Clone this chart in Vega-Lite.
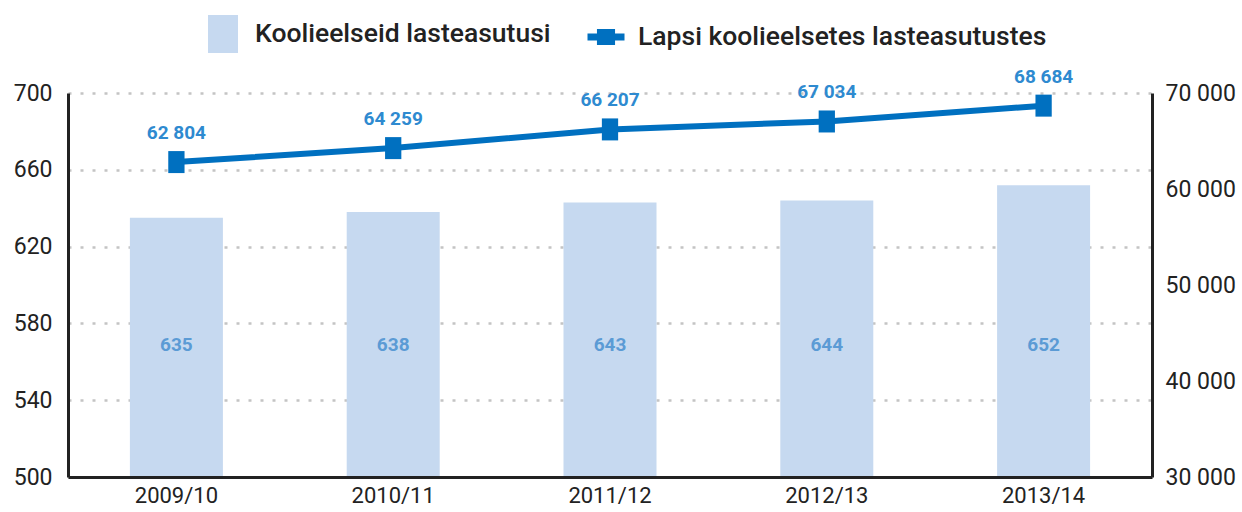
{
  "$schema": "https://vega.github.io/schema/vega-lite/v6.json",
  "autosize": {"type": "none"},
  "width": 1084,
  "height": 384,
  "padding": {"left": 68, "top": 93, "right": 90, "bottom": 35},
  "background": "white",
  "config": {
    "view": {"stroke": null},
    "font": "Roboto",
    "legend": {"padding": 0}
  },
  "data": {
    "values": [
      {"period": "2009/10", "asutusi": 635, "lapsi": 62804, "lapsiLabel": "62 804"},
      {"period": "2010/11", "asutusi": 638, "lapsi": 64259, "lapsiLabel": "64 259"},
      {"period": "2011/12", "asutusi": 643, "lapsi": 66207, "lapsiLabel": "66 207"},
      {"period": "2012/13", "asutusi": 644, "lapsi": 67034, "lapsiLabel": "67 034"},
      {"period": "2013/14", "asutusi": 652, "lapsi": 68684, "lapsiLabel": "68 684"}
    ]
  },
  "encoding": {
    "x": {
      "field": "period",
      "type": "nominal",
      "scale": {"paddingInner": 0, "paddingOuter": 0},
      "axis": {
        "title": null,
        "labelAngle": 0,
        "ticks": false,
        "domainColor": "#222222",
        "domainWidth": 3,
        "labelFontSize": 22,
        "labelColor": "#222222",
        "labelPadding": 8,
        "zindex": 1
      }
    }
  },
  "layer": [
    {
      "layer": [
        {
          "mark": {"type": "bar", "width": 93, "clip": true},
          "encoding": {
            "y": {
              "field": "asutusi",
              "type": "quantitative",
              "scale": {"domain": [500, 700], "zero": false, "nice": false},
              "axis": {
                "title": null,
                "values": [500, 540, 580, 620, 660, 700],
                "ticks": false,
                "domainColor": "#222222",
                "domainWidth": 3,
                "grid": true,
                "gridColor": "#c4c4c4",
                "gridWidth": 2.5,
                "gridDash": [3, 9],
                "labelFontSize": 23,
                "labelColor": "#222222",
                "labelPadding": 16
              }
            },
            "fill": {
              "datum": "Koolieelseid lasteasutusi",
              "scale": {"range": ["#C6D9F0"]},
              "legend": {
                "title": null,
                "orient": "none",
                "legendX": 136,
                "legendY": -78,
                "symbolType": "M-0.79,-1H0.79V1H-0.79Z",
                "symbolSize": 1444,
                "symbolStrokeWidth": 0,
                "symbolOpacity": 1,
                "labelFont": "Roboto",
                "labelFontSize": 26.5,
                "labelFontWeight": 500,
                "labelColor": "#222222",
                "labelOffset": 13,
                "labelLimit": 0
              }
            }
          }
        },
        {
          "mark": {"type": "text", "fontWeight": "bold", "fontSize": 19, "color": "#5B9BD5"},
          "encoding": {
            "y": {"datum": 568.5, "type": "quantitative"},
            "text": {"field": "asutusi", "type": "quantitative"}
          }
        }
      ]
    },
    {
      "layer": [
        {
          "mark": {"type": "line", "strokeWidth": 6},
          "encoding": {
            "y": {
              "field": "lapsi",
              "type": "quantitative",
              "scale": {"domain": [30000, 70000], "zero": false, "nice": false},
              "axis": {
                "orient": "right",
                "title": null,
                "values": [30000, 40000, 50000, 60000, 70000],
                "format": ",d",
                "labelExpr": "replace(datum.label, ',', ' ')",
                "ticks": false,
                "grid": false,
                "domainColor": "#222222",
                "domainWidth": 3,
                "labelFontSize": 23,
                "labelColor": "#222222",
                "labelPadding": 13
              }
            },
            "stroke": {
              "datum": "Lapsi koolieelsetes lasteasutustes",
              "scale": {"range": ["#0070C0"]},
              "legend": {
                "title": null,
                "orient": "none",
                "legendX": 516,
                "legendY": -78,
                "symbolType": "M-1,0H1M-0.3,-0.24H0.3V0.24H-0.3Z",
                "symbolSize": 1369,
                "symbolStrokeWidth": 7,
                "symbolFillColor": "#0070C0",
                "symbolOpacity": 1,
                "labelFont": "Roboto",
                "labelFontSize": 26.5,
                "labelFontWeight": 500,
                "labelColor": "#222222",
                "labelOffset": 10,
                "labelLimit": 0
              }
            }
          }
        },
        {
          "mark": {"type": "point", "shape": "M-0.74,-1H0.74V1H-0.74Z", "filled": true, "size": 484, "color": "#0070C0", "opacity": 1},
          "encoding": {
            "y": {"field": "lapsi", "type": "quantitative"}
          }
        },
        {
          "mark": {"type": "text", "fontWeight": "bold", "fontSize": 19, "color": "#2E8AD0", "dy": -29},
          "encoding": {
            "y": {"field": "lapsi", "type": "quantitative"},
            "text": {"field": "lapsiLabel"}
          }
        }
      ]
    }
  ],
  "resolve": {"scale": {"y": "independent", "fill": "independent", "stroke": "independent"}}
}
